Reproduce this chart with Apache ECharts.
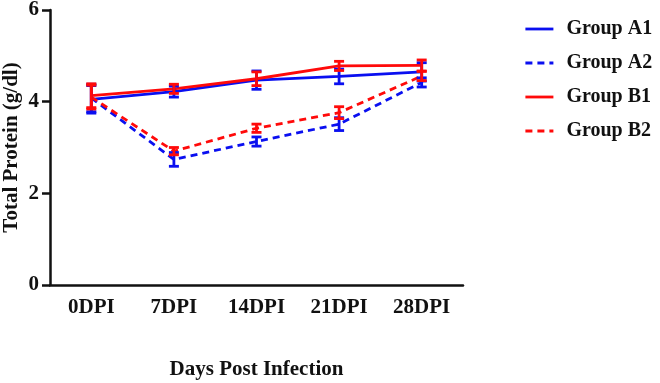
<!DOCTYPE html>
<html>
<head>
<meta charset="utf-8">
<script src="https://cdn.jsdelivr.net/npm/echarts@6/dist/echarts.min.js"></script>
<style>
  html, body { margin: 0; padding: 0; background: #fff; }
  #chart { width: 660px; height: 383px; }
</style>
</head>
<body>
<div id="chart"></div>
<script>
const categories = ['0DPI', '7DPI', '14DPI', '21DPI', '28DPI']
const yTicks = [0, 2, 4, 6]

const groupA1 = [4.05, 4.22, 4.47, 4.55, 4.65]
const groupA1Err = [0.3, 0.12, 0.2, 0.16, 0.2]
const groupA2 = [4.08, 2.74, 3.13, 3.51, 4.42]
const groupA2Err = [0.3, 0.15, 0.1, 0.14, 0.1]
const groupB1 = [4.13, 4.28, 4.5, 4.78, 4.79]
const groupB1Err = [0.26, 0.1, 0.15, 0.1, 0.12]
const groupB2 = [4.1, 2.92, 3.42, 3.76, 4.56]
const groupB2Err = [0.26, 0.08, 0.09, 0.13, 0.1]

const BLUE = '#0a0ff0'
const RED = '#ff0a0a'
const FONT = 'Liberation Serif'

function lineSeries(name, data, color, dashed) {
  return {
    name,
    type: 'line',
    data,
    symbol: 'none',
    lineStyle: { color, width: 2.8, type: dashed ? [7, 5] : 'solid' },
    itemStyle: { color },
    z: 2,
  }
}

function errorSeries(mean, err, color) {
  return {
    type: 'custom',
    data: mean.map((m, i) => [i, m - err[i], m + err[i]]),
    renderItem(params, api) {
      const lo = api.coord([api.value(0), api.value(1)])
      const hi = api.coord([api.value(0), api.value(2)])
      const half = 5
      const style = { stroke: color, lineWidth: 2.8 }
      return {
        type: 'group',
        children: [
          { type: 'line', shape: { x1: lo[0], y1: lo[1], x2: hi[0], y2: hi[1] }, style },
          { type: 'line', shape: { x1: lo[0] - half, y1: lo[1], x2: lo[0] + half, y2: lo[1] }, style },
          { type: 'line', shape: { x1: hi[0] - half, y1: hi[1], x2: hi[0] + half, y2: hi[1] }, style },
        ],
      }
    },
    z: 3,
  }
}

const chart = echarts.init(document.getElementById('chart'))
chart.setOption({
  animation: false,
  grid: { left: 50, right: 197, top: 10, bottom: 98, outerBoundsMode: 'none' },
  legend: {
    data: ['Group A1', 'Group A2', 'Group B1', 'Group B2'],
    orient: 'vertical',
    left: 519,
    top: 14,
    itemWidth: 28,
    itemHeight: 16,
    itemGap: 14,
    itemStyle: { opacity: 0 },
    lineStyle: { width: 2.8 },
    textStyle: { fontFamily: FONT, fontWeight: 'bold', fontSize: 20, color: '#111', padding: [0, 0, 0, 8] },
  },
  xAxis: {
    type: 'category',
    data: categories,
    boundaryGap: true,
    name: 'Days Post Infection',
    nameLocation: 'middle',
    nameGap: 74,
    nameTextStyle: { fontFamily: FONT, fontWeight: 'bold', fontSize: 21, color: '#111' },
    axisLine: { lineStyle: { color: '#111', width: 2.5 } },
    axisTick: { alignWithLabel: true, length: 7, lineStyle: { color: '#111', width: 2.5 } },
    axisLabel: { fontFamily: FONT, fontWeight: 'bold', fontSize: 21, color: '#111', margin: 12 },
  },
  yAxis: {
    type: 'value',
    min: yTicks[0],
    max: yTicks[yTicks.length - 1],
    interval: 2,
    name: 'Total Protein (g/dl)',
    nameLocation: 'middle',
    nameGap: 28,
    nameMoveOverlap: false,
    nameTextStyle: { fontFamily: FONT, fontWeight: 'bold', fontSize: 21, color: '#111' },
    axisLine: { show: true, lineStyle: { color: '#111', width: 2.5 } },
    axisTick: { show: true, length: 8, lineStyle: { color: '#111', width: 2.5 } },
    axisLabel: { fontFamily: FONT, fontWeight: 'bold', fontSize: 21, color: '#111', margin: 11 },
    splitLine: { show: false },
  },
  series: [
    lineSeries('Group A1', groupA1, BLUE, false),
    lineSeries('Group A2', groupA2, BLUE, true),
    lineSeries('Group B1', groupB1, RED, false),
    lineSeries('Group B2', groupB2, RED, true),
    errorSeries(groupA1, groupA1Err, BLUE),
    errorSeries(groupA2, groupA2Err, BLUE),
    errorSeries(groupB1, groupB1Err, RED),
    errorSeries(groupB2, groupB2Err, RED),
  ],
})
</script>
</body>
</html>
